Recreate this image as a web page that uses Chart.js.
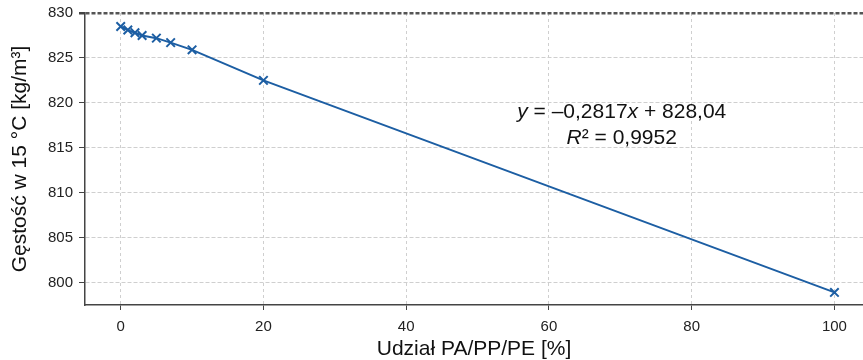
<!DOCTYPE html>
<html>
<head>
<meta charset="utf-8">
<script src="https://cdn.jsdelivr.net/npm/chart.js@4.4.1/dist/chart.umd.min.js"></script>
<style>
  html, body { margin: 0; padding: 0; background: #fff; }
  #wrap { width: 863px; height: 360px; position: relative; }
</style>
</head>
<body>
<div id="wrap"><canvas id="myChart"></canvas></div>
<script>
// udział PA/PP/PE [%] i gęstość [kg/m3]
const shareX = [0, 1, 2, 3, 5, 7, 10, 20, 100];
const density = [828.5, 828.1, 827.8, 827.5, 827.2, 826.7, 825.9, 822.5, 798.9];
const xTicks = [0, 20, 40, 60, 80, 100];
const yTicks = [800, 805, 810, 815, 820, 825, 830];
const eqLine1 = [['y', true], [' = \u20130,2817', false], ['x', true], [' + 828,04', false]];
const eqLine2 = [['R', true], ['\u00b2', false], [' = 0,9952', false]];

const blue = '#1c5ea3';
const axisDark = '#444';
const gridLight = '#cfcfcf';
const fontFam = '"Liberation Sans", Arial, sans-serif';

// equation text drawn in data space
const equationPlugin = {
  id: 'equation',
  afterDatasetsDraw(chart) {
    const c = chart.ctx;
    const sx = chart.scales.x, sy = chart.scales.y;
    const cx = sx.getPixelForValue(70.2);
    function drawLine(parts, yVal) {
      const py = sy.getPixelForValue(yVal);
      let total = 0;
      parts.forEach(p => {
        c.font = (p[1] ? 'italic ' : '') + '21px ' + fontFam;
        total += c.measureText(p[0]).width;
      });
      let x = cx - total / 2;
      c.save();
      c.fillStyle = '#111';
      c.textBaseline = 'middle';
      c.textAlign = 'left';
      parts.forEach(p => {
        c.font = (p[1] ? 'italic ' : '') + '21px ' + fontFam;
        c.fillText(p[0], x, py);
        x += c.measureText(p[0]).width;
      });
      c.restore();
    }
    drawLine(eqLine1, 819.0);
    drawLine(eqLine2, 816.1);
  }
};

const ctx = document.getElementById('myChart').getContext('2d');
const chart = new Chart(ctx, {
  type: 'scatter',
  data: {
    datasets: [{
      data: shareX.map((v, i) => ({x: v, y: density[i]})),
      showLine: true,
      borderColor: blue,
      borderWidth: 2,
      pointStyle: 'crossRot',
      pointRadius: 6,
      pointBorderWidth: 2,
      pointBorderColor: blue,
      pointBackgroundColor: blue,
      clip: false
    }]
  },
  options: {
    responsive: true,
    maintainAspectRatio: false,
    animation: false,
    layout: { autoPadding: false, padding: { top: 13, right: 0, left: 0, bottom: 0 } },
    plugins: {
      legend: { display: false },
      tooltip: { enabled: false }
    },
    scales: {
      x: {
        type: 'linear',
        min: -5,
        max: 104,
        afterBuildTicks: s => { s.ticks = xTicks.map(v => ({value: v})); },
        afterFit: s => { s.height = 55; s.paddingLeft = 0; s.paddingRight = 0; },
        ticks: {
          color: '#222',
          font: { family: fontFam, size: 15 },
          padding: 8
        },
        grid: {
          color: gridLight,
          tickColor: axisDark,
          tickLength: 5,
          lineWidth: 1
        },
        border: { display: true, color: axisDark, width: 1.5, dash: [3, 3] },
        title: {
          display: true,
          text: 'Udział PA/PP/PE [%]',
          color: '#111',
          font: { family: fontFam, size: 21 },
          padding: { top: 0, bottom: -2 }
        }
      },
      y: {
        type: 'linear',
        min: 797.5,
        max: 830,
        afterBuildTicks: s => { s.ticks = yTicks.map(v => ({value: v})); },
        afterFit: s => { s.width = 85; s.paddingTop = 0; s.paddingBottom = 0; },
        ticks: {
          color: '#222',
          font: { family: fontFam, size: 15 },
          padding: 6
        },
        grid: {
          color: c => (c.tick && c.tick.value === 830) ? '#555' : gridLight,
          lineWidth: c => (c.tick && c.tick.value === 830) ? 2.5 : 1,
          tickColor: axisDark,
          tickLength: 6
        },
        border: { display: true, color: axisDark, width: 1.5, dash: [4, 2] },
        title: {
          display: true,
          text: 'Gęstość w 15 °C [kg/m³]',
          color: '#111',
          font: { family: fontFam, size: 21 },
          padding: { top: 8, bottom: 4 }
        }
      }
    }
  },
  plugins: [equationPlugin]
});
</script>
</body>
</html>
